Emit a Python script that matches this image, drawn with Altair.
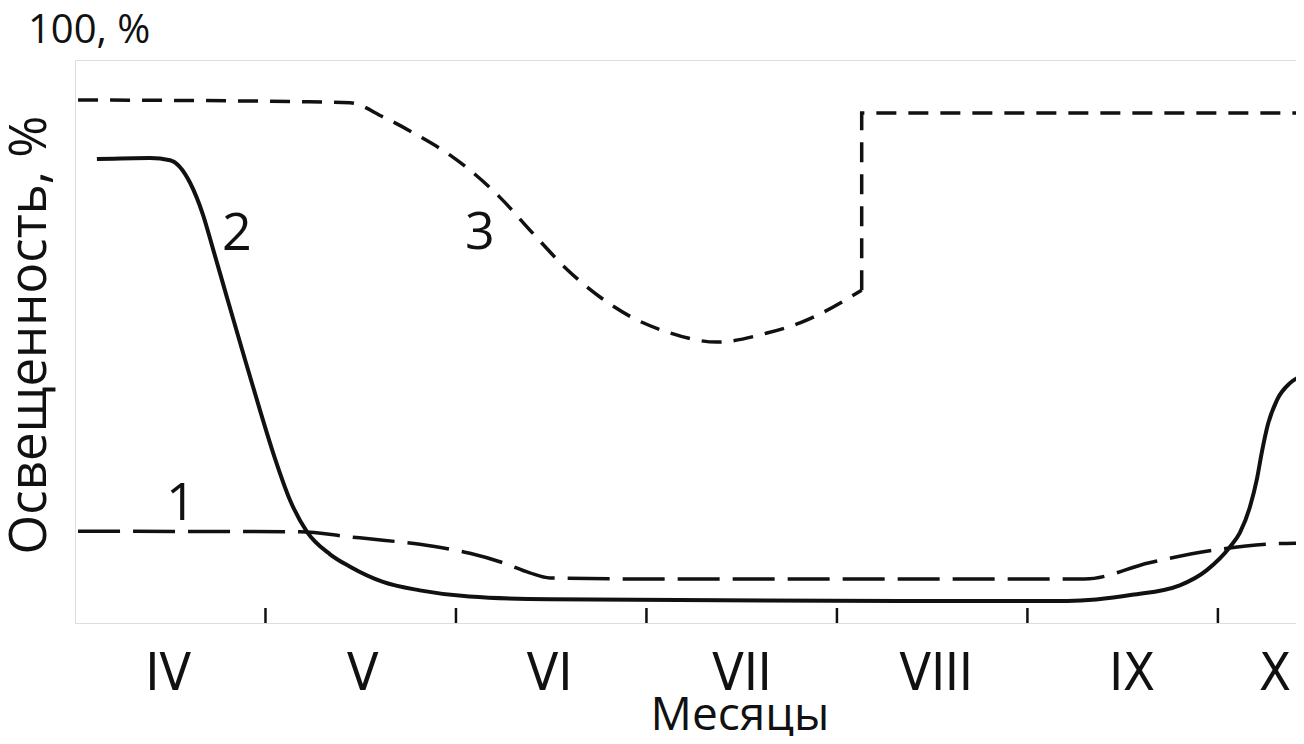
import altair as alt
import pandas as pd

# Curve 1 (long dashes)
c1_x = [0.016, 1.181, 1.444, 1.617, 1.811, 1.969, 2.073, 2.247, 2.388, 2.493, 3.12, 5.30, 5.64, 5.99, 6.26, 6.45]
c1_y = [16.3, 16.2, 15.3, 14.7, 14.0, 13.1, 12.4, 10.7, 8.9, 8.0, 7.8, 7.8, 10.7, 13.0, 14.0, 14.2]

# Curve 2 (solid)
c2_x = [0.115, 0.394, 0.499, 0.604, 0.672, 0.724, 0.798, 0.882, 0.971, 1.05, 1.129, 1.218,
        1.339, 1.444, 1.617, 1.81, 2.07, 2.49, 4.33, 5.21, 5.55, 5.80, 5.942, 6.063,
        6.115, 6.168, 6.205, 6.231, 6.262, 6.310, 6.378, 6.446]
c2_y = [82.4, 82.6, 82.2, 78.2, 72.5, 66.5, 57.8, 48.0, 37.8, 29.2, 21.8, 16.2,
        12.2, 10.0, 7.3, 5.8, 4.7, 4.2, 3.9, 3.9, 5.0, 6.7, 9.4, 13.5,
        16.0, 20.6, 25.6, 30.4, 35.2, 39.6, 42.6, 44.0]

# Curve 3 (short dashes): smooth part, then step part
c3a_x = [0.016, 1.181, 1.444, 1.617, 1.795, 1.969, 2.089, 2.231, 2.404, 2.583, 2.756,
         2.929, 3.108, 3.370, 3.633, 3.806, 4.13]
c3a_y = [92.9, 92.6, 92.4, 89.9, 86.7, 83.1, 80.0, 75.6, 69.2, 62.8, 57.9,
         54.2, 51.7, 49.9, 51.5, 53.3, 59.1]
c3b_x = [4.13, 4.13, 6.45]
c3b_y = [59.1, 90.6, 90.6]

# Curve number labels
lab_text = ["1", "2", "3"]
lab_x = [0.556, 0.85, 2.126]
lab_y = [21.1, 69.1, 69.3]

# Month boundaries (ticks) and month labels
tick_x = [1, 2, 3, 4, 5, 6]
month_names = ["IV", "V", "VI", "VII", "VIII", "IX", "X"]
month_x = [0.49, 1.51, 2.49, 3.5, 4.52, 5.55, 6.30]

W, H = 1221, 563
INK = "#111111"
FONT = "Open Sans"

xs = alt.Scale(domain=[0, 6.41], nice=False, zero=False)
ys = alt.Scale(domain=[0, 100], nice=False, zero=False)

axis_x = alt.Axis(domain=True, domainWidth=3, domainColor=INK, ticks=False,
                  labels=False, grid=False, title=None)
axis_y = alt.Axis(domain=True, domainWidth=3, domainColor=INK, ticks=False,
                  labels=False, grid=False, title=None)

df1 = pd.DataFrame({"x": c1_x, "y": c1_y})
df2 = pd.DataFrame({"x": c2_x, "y": c2_y})
df3a = pd.DataFrame({"x": c3a_x, "y": c3a_y})
df3b = pd.DataFrame({"x": c3b_x, "y": c3b_y})
dfl = pd.DataFrame({"x": lab_x, "y": lab_y, "t": lab_text})
dft = pd.DataFrame({"x": tick_x})
dfm = pd.DataFrame({"x": month_x, "t": month_names})

line1 = alt.Chart(df1).mark_line(color=INK, strokeWidth=3.5, strokeDash=[42, 13],
                                  interpolate="monotone", clip=True).encode(
    x=alt.X("x:Q", scale=xs, axis=axis_x), y=alt.Y("y:Q", scale=ys, axis=axis_y))

line2 = alt.Chart(df2).mark_line(color=INK, strokeWidth=4,
                                  interpolate="monotone", clip=True).encode(
    x=alt.X("x:Q", scale=xs, axis=None), y=alt.Y("y:Q", scale=ys, axis=None))

line3a = alt.Chart(df3a).mark_line(color=INK, strokeWidth=3.5, strokeDash=[20, 12],
                                   interpolate="monotone", clip=True).encode(
    x=alt.X("x:Q", scale=xs, axis=None), y=alt.Y("y:Q", scale=ys, axis=None))

line3b = alt.Chart(df3b).mark_line(color=INK, strokeWidth=3.5, strokeDash=[20, 12],
                                   interpolate="linear", clip=True).encode(
    x=alt.X("x:Q", scale=xs, axis=None), y=alt.Y("y:Q", scale=ys, axis=None))

labels = alt.Chart(dfl).mark_text(font=FONT, fontSize=52, color=INK,
                                   align="center", baseline="middle").encode(
    x=alt.X("x:Q", scale=xs, axis=None), y=alt.Y("y:Q", scale=ys, axis=None), text="t:N")

ticks = alt.Chart(dft).mark_rule(color=INK, strokeWidth=2.5).encode(
    x=alt.X("x:Q", scale=xs, axis=None), y=alt.value(H - 15), y2=alt.value(H))

months = alt.Chart(dfm).mark_text(font="Liberation Sans Narrow, DejaVu Sans Condensed, Liberation Sans",
                                   fontSize=52, color=INK, align="center",
                                   baseline="alphabetic").encode(
    x=alt.X("x:Q", scale=xs, axis=None), y=alt.value(H + 67), text="t:N")

xtitle = alt.Chart(pd.DataFrame({"t": ["Месяцы"]})).mark_text(
    font=FONT, fontSize=46, color=INK, align="center", baseline="alphabetic").encode(
    x=alt.value(665), y=alt.value(H + 107), text="t:N")

ytitle = alt.Chart(pd.DataFrame({"t": ["Освещенность, %"]})).mark_text(
    font=FONT, fontSize=51, color=INK, align="center", baseline="middle", angle=270).encode(
    x=alt.value(-44), y=alt.value(275), text="t:N")

ytop = alt.Chart(pd.DataFrame({"t": ["100, %"]})).mark_text(
    font=FONT, fontSize=40, color=INK, align="left", baseline="alphabetic").encode(
    x=alt.value(-47), y=alt.value(-17), text="t:N")

chart = alt.layer(line1, line2, line3a, line3b, ticks, labels, months, xtitle, ytitle, ytop).properties(
    width=W, height=H,
    autosize=alt.AutoSizeParams(type="none"),
    padding={"left": 67, "top": 52, "right": 0, "bottom": 113},
).configure_view(stroke=None).configure(background="white")

chart.save("out.html", embed_options={"renderer": "svg", "actions": False})
